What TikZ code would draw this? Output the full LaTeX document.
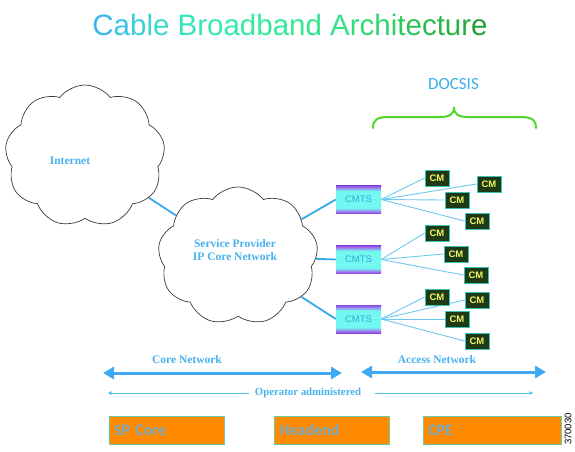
\documentclass[tikz,border=0pt]{standalone}
\usepackage{fontspec}
\setmainfont{Liberation Serif}
\newfontfamily\arialf{Liberation Sans}
\newfontfamily\calibf{Carlito}
\usetikzlibrary{shapes.symbols,arrows.meta,backgrounds}
\definecolor{lblblue}{HTML}{46B2EE}
\definecolor{arrblue}{HTML}{3FA9F5}
\definecolor{oplblue}{HTML}{55BFF0}
\definecolor{linkblue}{HTML}{36A8E8}
\definecolor{cmline}{HTML}{6CC8EC}
\definecolor{cmfill}{HTML}{1E3A14}
\definecolor{cmedge}{HTML}{3CC0B8}
\definecolor{cmtext}{HTML}{F2F26A}
\definecolor{cmP}{HTML}{8A44DE}
\definecolor{cmPl}{HTML}{A070F0}
\definecolor{cmC}{HTML}{72F8F0}
\definecolor{cmtstext}{HTML}{3AA6DC}
\definecolor{bracegreen}{HTML}{4FD628}
\definecolor{docsisblue}{HTML}{3AAEEA}
\definecolor{boxorange}{HTML}{FF8A00}
\definecolor{boxedge}{HTML}{6CCB9A}
\definecolor{boxtext}{HTML}{72AACA}
\definecolor{cloudedge}{HTML}{3A3A3A}
\pgfdeclareverticalshading{cmtsshade}{100bp}{color(0bp)=(cmP); color(25bp)=(cmP); color(28bp)=(cmPl); color(35bp)=(cmC); color(65bp)=(cmC); color(72bp)=(cmPl); color(75bp)=(cmP); color(100bp)=(cmP)}
\tikzset{
  cloudnode/.style={cloud, draw=cloudedge, line width=0.7pt, cloud puffs=9, cloud puff arc=105, inner sep=0pt},
  lbl/.style={text=lblblue, font=\bfseries\fontsize{11.5}{13.5}\selectfont, inner sep=0pt, align=center},
  cmtsbox/.style={shading=cmtsshade, minimum width=45pt, minimum height=28pt, inner sep=0pt, text=cmtstext, font=\arialf\fontsize{9.5}{10}\selectfont},
  cmbox/.style={draw=cmedge, line width=0.8pt, fill=cmfill, minimum width=24pt, minimum height=16pt, inner sep=0pt, text=cmtext, font=\arialf\bfseries\fontsize{9.5}{10}\selectfont},
  cmlink/.style={draw=cmline, line width=0.9pt},
  netlink/.style={draw=linkblue, line width=1.8pt},
  bigarrow/.style={draw=arrblue, line width=3pt, {Triangle[length=11pt,width=12pt]}-{Triangle[length=11pt,width=12pt]}},
  thinarrow/.style={draw=oplblue, line width=1pt, -{Triangle[length=3.5pt,width=3.5pt]}},
  botbox/.style={draw=boxedge, line width=0.8pt, fill=boxorange, minimum height=28pt, inner xsep=5pt, inner ysep=0pt, align=left, text=boxtext, font=\calibf\bfseries\fontsize{16}{18}\selectfont}
}
\begin{document}
\begin{tikzpicture}[x=1pt,y=-1pt]
\useasboundingbox (0,0) rectangle (575,451);
% title
\node[anchor=base, inner sep=0pt, font=\arialf\fontsize{29.5}{32}\selectfont] (title) at (290,35) {%
\textcolor[HTML]{3AB6EA}{C}\textcolor[HTML]{3AC4E2}{a}\textcolor[HTML]{39CFDA}{b}\textcolor[HTML]{38D6D2}{l}\textcolor[HTML]{37DCCA}{e} %
\textcolor[HTML]{35E4BE}{B}\textcolor[HTML]{34E8B6}{r}\textcolor[HTML]{34EAB0}{o}\textcolor[HTML]{34EBAA}{a}\textcolor[HTML]{34EBA4}{d}\textcolor[HTML]{34EA9E}{b}\textcolor[HTML]{34E998}{a}\textcolor[HTML]{34E792}{n}\textcolor[HTML]{34E58C}{d} %
\textcolor[HTML]{33E284}{A}\textcolor[HTML]{33DE7C}{r}\textcolor[HTML]{32DA74}{c}\textcolor[HTML]{31D46C}{h}\textcolor[HTML]{30CE64}{i}\textcolor[HTML]{2FC85C}{t}\textcolor[HTML]{2DC255}{e}\textcolor[HTML]{2CBC4E}{c}\textcolor[HTML]{2AB648}{t}\textcolor[HTML]{28B042}{u}\textcolor[HTML]{26AA3C}{r}\textcolor[HTML]{229E34}{e}};
% DOCSIS + brace
\node[text=docsisblue, font=\calibf\fontsize{17}{19}\selectfont, inner sep=0pt] (docsis) at (453.5,84) {DOCSIS};
\draw[draw=bracegreen, line width=2pt, line cap=round] (373,128) .. controls (373,120) and (377,117) .. (388,117) -- (440,117) .. controls (450,117) and (454,114) .. (454,107) .. controls (454,114) and (458,117) .. (468,117) -- (521,117) .. controls (532,117) and (536,120) .. (536,128);
% clouds
\node[cloudnode, minimum width=160pt, minimum height=142pt] (inet) at (85,156) {};
\node[lbl] (inetlbl) at (70,161) {Internet};
\node[cloudnode, minimum width=160pt, minimum height=138pt] (sp) at (238,256) {};
\node[lbl] (splbl) at (235,250) {Service Provider\\IP Core Network};
% CMTS
\node[cmtsbox] (c1) at (358.5,199.5) {CMTS};
\node[cmtsbox] (c2) at (358.5,259.5) {CMTS};
\node[cmtsbox] (c3) at (358.5,319) {CMTS};
% CMs
\node[cmbox] (m1) at (437,178) {CM};
\node[cmbox] (m2) at (489,184) {CM};
\node[cmbox] (m3) at (457,200) {CM};
\node[cmbox] (m4) at (477,221) {CM};
\node[cmbox] (m5) at (437,233) {CM};
\node[cmbox] (m6) at (456,254) {CM};
\node[cmbox] (m7) at (476,275) {CM};
\node[cmbox] (m8) at (437,297) {CM};
\node[cmbox] (m9) at (477,300) {CM};
\node[cmbox] (m10) at (457,319) {CM};
\node[cmbox] (m11) at (477,341) {CM};
\begin{pgfonlayer}{background}
\draw[netlink] (inet) -- (sp);
\draw[netlink] (sp) -- (c1.west);
\draw[netlink] (sp) -- (c2.west);
\draw[netlink] (sp) -- (c3.west);
\foreach \m in {m1,m2,m3,m4} \draw[cmlink] (c1.east) -- (\m.west);
\foreach \m in {m5,m6,m7} \draw[cmlink] (c2.east) -- (\m.west);
\foreach \m in {m8,m9,m10,m11} \draw[cmlink] (c3.east) -- (\m.west);
\end{pgfonlayer}
% spans
\coordinate (coreL) at (103,373);
\coordinate (coreR) at (342,373);
\coordinate (accL) at (361,372);
\coordinate (accR) at (546,372);
\draw[bigarrow] (coreL) -- (coreR);
\draw[bigarrow] (accL) -- (accR);
\node[lbl] (corelbl) at (187,360) {Core Network};
\node[lbl] (acclbl) at (437,360) {Access Network};
\node[lbl, font=\bfseries\fontsize{10.8}{12}\selectfont] (oplbl) at (308,393) {Operator administered};
\coordinate (opL) at (108,393);
\coordinate (opR) at (533,393);
\draw[thinarrow] ([xshift=-6pt]oplbl.west) -- (opL);
\draw[thinarrow] ([xshift=14pt]oplbl.east) -- (opR);
% bottom boxes
\node[botbox, text width=105pt] (spcore) at (166.5,430) {SP Core};
\node[botbox, text width=105pt] (headend) at (332,430) {Headend};
\node[botbox, text width=128pt] (cpe) at (492,430) {CPE};
\node[rotate=90, inner sep=0pt, font=\arialf\fontsize{9.5}{10}\selectfont] (fig) at (568,429) {370030};
\end{tikzpicture}
\end{document}
